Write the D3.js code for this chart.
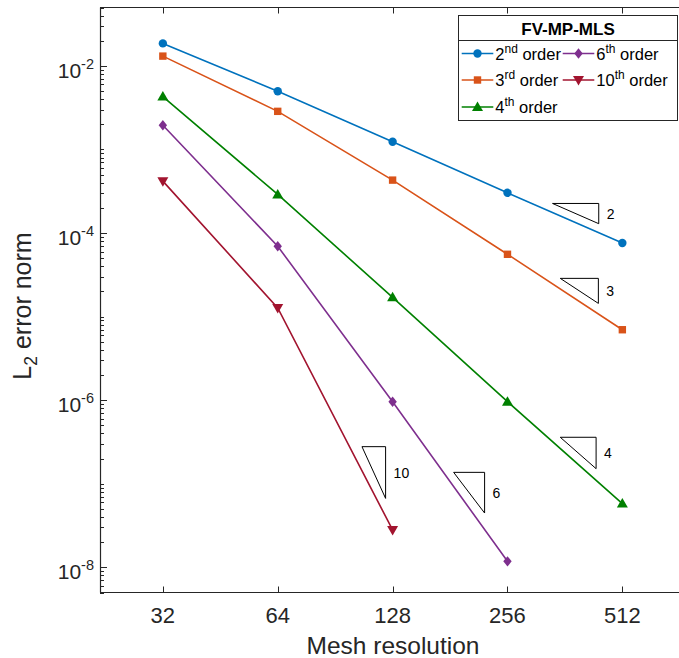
<!DOCTYPE html>
<html>
<head>
<meta charset="utf-8">
<script src="https://cdn.jsdelivr.net/npm/d3@7/dist/d3.min.js"></script>
<style>
  html, body { margin: 0; padding: 0; background: #fff; }
  svg { display: block; font-family: "Liberation Sans", Arial, Helvetica, sans-serif; }
</style>
</head>
<body>
<svg id="chart" width="679" height="658"></svg>
<script>
// ---------------- data ----------------
const resolutions = [32, 64, 128, 256, 512];
const xTickLabels = ["32", "64", "128", "256", "512"];
const yTickExponents = [-2, -4, -6, -8];

const err2nd  = [1.86e-2, 4.97e-3, 1.24e-3, 3.03e-4, 7.6e-5];
const err3rd  = [1.31e-2, 2.86e-3, 4.30e-4, 5.57e-5, 6.97e-6];
const err4th  = [4.3e-3, 2.90e-4, 1.70e-5, 9.6e-7, 5.8e-8];
const err6th  = [1.95e-3, 6.95e-5, 9.6e-7, 1.18e-8];
const err10th = [4.18e-4, 1.27e-5, 2.8e-8];

const seriesNames = ["2", "3", "4", "6", "10"];
const seriesSups  = ["nd", "rd", "th", "th", "th"];
const seriesValues = [err2nd, err3rd, err4th, err6th, err10th];
const seriesColors = ["#0072BD", "#D95319", "#008000", "#7E2F8E", "#A2142F"];
const seriesMarkers = ["circle", "square", "triangle", "diamond", "triangledown"];

// slope triangles: left x, right x, top y value, order (label)
const triLeft  = [336, 352, 352, 185, 106.4];
const triRight = [444, 443, 437, 223, 122.7];
const triTop   = [2.26e-4, 2.87e-5, 3.6e-7, 1.37e-7, 2.78e-7];
const triOrder = [2, 3, 4, 6, 10];

const legendTitle = "FV-MP-MLS";
const xLabel = "Mesh resolution";

// ---------------- layout ----------------
const svg = d3.select("#chart");
const L = 100, R = 680, T = 7.5, B = 592.5;
const axisColor = "#262626";

const x = d3.scaleLog().base(2).domain([21.9, 725]).range([L, R]);
const y = d3.scaleLog().domain([5e-9, 5e-2]).range([B, T]);

// clip
svg.append("clipPath").attr("id", "clip")
  .append("rect").attr("x", L).attr("y", T).attr("width", R - L).attr("height", B - T);

// axes lines
const ax = svg.append("g");
ax.append("line").attr("x1", L + 0.5).attr("x2", L + 0.5).attr("y1", T).attr("y2", B)
  .attr("stroke", axisColor).attr("stroke-width", 1.2);
ax.append("line").attr("x1", L).attr("x2", R).attr("y1", T).attr("y2", T)
  .attr("stroke", axisColor).attr("stroke-width", 1.2);
ax.append("line").attr("x1", L).attr("x2", R).attr("y1", B).attr("y2", B)
  .attr("stroke", axisColor).attr("stroke-width", 1.2);

// x ticks (inward, top & bottom)
resolutions.forEach((r, i) => {
  const px = Math.round(x(r)) + 0.5;
  ax.append("line").attr("x1", px).attr("x2", px).attr("y1", B).attr("y2", B - 6)
    .attr("stroke", axisColor).attr("stroke-width", 1);
  ax.append("line").attr("x1", px).attr("x2", px).attr("y1", T).attr("y2", T + 6)
    .attr("stroke", axisColor).attr("stroke-width", 1);
  ax.append("text").attr("x", x(r)).attr("y", 622.5)
    .attr("text-anchor", "middle").attr("font-size", 22).attr("fill", axisColor)
    .text(xTickLabels[i]);
});

// y ticks: minor at k*10^e
const [ymin, ymax] = y.domain();
for (let e = -9; e <= -1; e++) {
  for (let k = 1; k <= 9; k++) {
    const v = k * Math.pow(10, e);
    if (v < ymin || v > ymax) continue;
    const major = (k === 1 && yTickExponents.includes(e));
    const py = Math.round(y(v)) + 0.5;
    ax.append("line").attr("x1", L).attr("x2", L + (major ? 7 : 4))
      .attr("y1", py).attr("y2", py)
      .attr("stroke", axisColor).attr("stroke-width", 1);
  }
}
yTickExponents.forEach(e => {
  const t = ax.append("text").attr("x", 94).attr("y", y(Math.pow(10, e)) + 12)
    .attr("text-anchor", "end").attr("font-size", 21).attr("fill", axisColor);
  t.append("tspan").text("10");
  t.append("tspan").attr("dy", -9).attr("font-size", 14.5).text("-" + Math.abs(e));
});

// axis labels
svg.append("text").attr("x", (L + 686) / 2).attr("y", 654)
  .attr("text-anchor", "middle").attr("font-size", 24.5).attr("fill", axisColor)
  .text(xLabel);
const yl = svg.append("text")
  .attr("transform", `translate(31,${(T + B) / 2 + 6}) rotate(-90)`)
  .attr("text-anchor", "middle").attr("font-size", 25).attr("fill", axisColor);
yl.append("tspan").text("L");
yl.append("tspan").attr("dy", 6).attr("font-size", 17.5).text("2");
yl.append("tspan").attr("dy", -6).text(" error norm");

// ---------------- markers ----------------
function drawMarker(g, type, cx, cy, color) {
  if (type === "circle") {
    g.append("circle").attr("cx", cx).attr("cy", cy).attr("r", 4.2).attr("fill", color);
  } else if (type === "square") {
    g.append("rect").attr("x", cx - 3.7).attr("y", cy - 3.7).attr("width", 7.4).attr("height", 7.4).attr("fill", color);
  } else if (type === "triangle") {
    g.append("path").attr("d", `M${cx},${cy - 5.5}L${cx + 5.5},${cy + 4}L${cx - 5.5},${cy + 4}Z`).attr("fill", color);
  } else if (type === "triangledown") {
    g.append("path").attr("d", `M${cx},${cy + 5.5}L${cx + 5.5},${cy - 4}L${cx - 5.5},${cy - 4}Z`).attr("fill", color);
  } else if (type === "diamond") {
    g.append("path").attr("d", `M${cx},${cy - 5.2}L${cx + 4.2},${cy}L${cx},${cy + 5.2}L${cx - 4.2},${cy}Z`).attr("fill", color);
  }
}

const plot = svg.append("g").attr("clip-path", "url(#clip)");
const line = d3.line().x(d => x(d[0])).y(d => y(d[1]));
seriesValues.forEach((vals, si) => {
  const pts = vals.map((v, i) => [resolutions[i], v]);
  plot.append("path").datum(pts).attr("d", line)
    .attr("fill", "none").attr("stroke", seriesColors[si]).attr("stroke-width", 1.6);
  pts.forEach(p => drawMarker(plot, seriesMarkers[si], x(p[0]), y(p[1]), seriesColors[si]));
});

// ---------------- slope triangles ----------------
triOrder.forEach((o, i) => {
  const x0 = x(triLeft[i]), x1 = x(triRight[i]);
  const yTop = triTop[i];
  const yBot = yTop * Math.pow(triLeft[i] / triRight[i], o);
  const y0 = y(yTop), y1 = y(yBot);
  svg.append("path").attr("d", `M${x0},${y0}L${x1},${y0}L${x1},${y1}Z`)
    .attr("fill", "none").attr("stroke", "#000").attr("stroke-width", 1);
  svg.append("text").attr("x", x1 + 8).attr("y", (y0 + y1) / 2 + 5)
    .attr("font-size", 14).attr("fill", "#000").text(String(o));
});

// ---------------- legend ----------------
const lg = svg.append("g");
const lx0 = 458.5, lx1 = 677.5, ly0 = 15.5, ly1 = 120.5, ldiv = 40.5;
lg.append("rect").attr("x", lx0).attr("y", ly0).attr("width", lx1 - lx0).attr("height", ly1 - ly0)
  .attr("fill", "#fff").attr("stroke", axisColor).attr("stroke-width", 1);
lg.append("line").attr("x1", lx0).attr("x2", lx1).attr("y1", ldiv).attr("y2", ldiv)
  .attr("stroke", axisColor).attr("stroke-width", 1);
lg.append("text").attr("x", (lx0 + lx1) / 2).attr("y", 34.5).attr("text-anchor", "middle")
  .attr("font-size", 17).attr("font-weight", "bold").attr("fill", "#000").text(legendTitle);

const colX = [461.7, 562.7];
const rowY = [53.5, 80, 107];
const order = [0, 1, 2, 3, 4];
const slots = [[0,0],[0,1],[0,2],[1,0],[1,1]];
order.forEach((si, k) => {
  const [c, r] = slots[k];
  const lxA = colX[c], lxB = colX[c] + 31.6, ly = rowY[r];
  lg.append("line").attr("x1", lxA).attr("x2", lxB).attr("y1", ly).attr("y2", ly)
    .attr("stroke", seriesColors[si]).attr("stroke-width", 1.6);
  drawMarker(lg, seriesMarkers[si], (lxA + lxB) / 2, ly, seriesColors[si]);
  const t = lg.append("text").attr("x", lxB + 2).attr("y", ly + 6)
    .attr("font-size", 16.5).attr("fill", "#000");
  t.append("tspan").text(seriesNames[si]);
  t.append("tspan").attr("dy", -7).attr("font-size", 12).text(seriesSups[si]);
  t.append("tspan").attr("dy", 7).text(" order");
});
</script>
</body>
</html>
